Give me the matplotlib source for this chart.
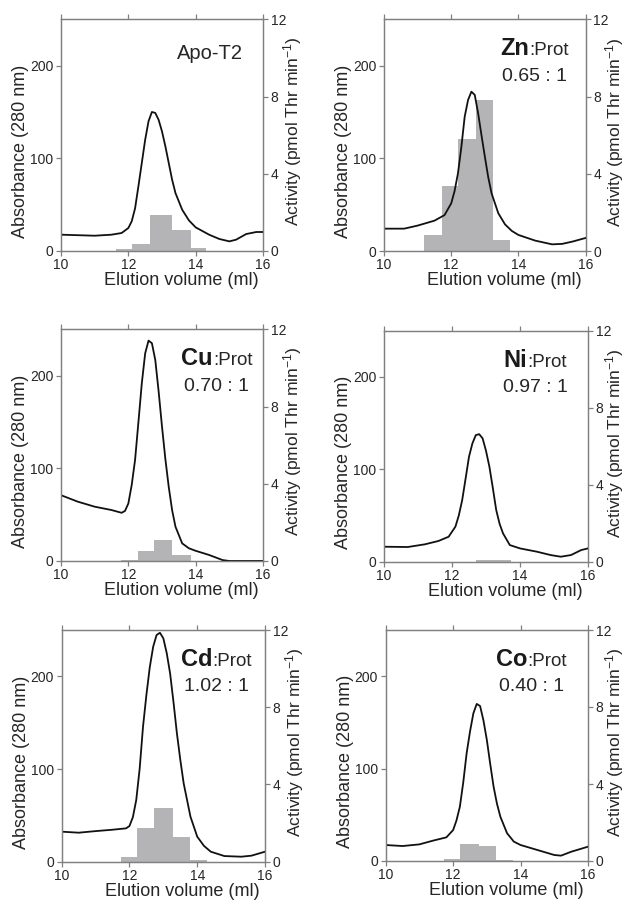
import numpy as np
import matplotlib
matplotlib.use('Agg')
import matplotlib.pyplot as plt

plt.rcParams['font.family'] = ['Liberation Sans', 'DejaVu Sans']
plt.rcParams['mathtext.fontset'] = 'custom'
plt.rcParams['mathtext.rm'] = 'Liberation Sans'
plt.rcParams['mathtext.it'] = 'Liberation Sans:italic'
plt.rcParams['mathtext.bf'] = 'Liberation Sans:bold'

# ---------------- data ----------------
apo_x = [10, 11, 11.5, 11.8, 12.0, 12.1, 12.2, 12.3, 12.4, 12.5, 12.6, 12.7, 12.8, 12.9, 13.0,
         13.1, 13.2, 13.3, 13.4, 13.6, 13.8, 14.0, 14.4, 14.7, 15.0, 15.2, 15.5, 15.8, 16]
apo_y = [17.6, 16.5, 17.6, 19.4, 24.8, 32, 46, 70, 95, 120, 140, 150, 149, 141.5, 129,
         113, 95, 77, 62.5, 44.5, 33, 25.5, 17.6, 13, 10.4, 12.2, 18.3, 20.5, 20.5]
apo_edges = [11.63, 12.12, 12.64, 13.30, 13.85, 14.32]
apo_act = [0.10, 0.36, 1.85, 1.10, 0.14]

zn_x = [10, 10.6, 11, 11.5, 11.8, 12.0, 12.1, 12.2, 12.3, 12.4, 12.5, 12.6, 12.7, 12.8, 12.9,
        13.0, 13.1, 13.2, 13.4, 13.6, 13.8, 14.0, 14.5, 15.0, 15.3, 15.6, 16]
zn_y = [24.4, 24.4, 27.7, 33, 39, 51.7, 65, 84, 112, 145, 163, 172, 168.5, 148.7, 125,
        102, 80, 62.5, 41, 29, 22, 17.6, 11.5, 7.5, 8, 10.4, 14.4]
zn_edges = [11.19, 11.73, 12.20, 12.74, 13.24, 13.74]
zn_act = [0.85, 3.38, 5.81, 7.83, 0.60]

cu_x = [10, 10.5, 11, 11.5, 11.8, 11.9, 12.0, 12.1, 12.2, 12.3, 12.4, 12.5, 12.6, 12.7, 12.8,
        12.9, 13.0, 13.1, 13.2, 13.3, 13.4, 13.6, 13.8, 14.0, 14.4, 14.8, 15.0, 16]
cu_y = [71, 64, 58.6, 55, 52, 54, 62, 82, 109, 150, 191.7, 224, 237.8, 235, 217,
        183, 145, 110, 80, 55, 37, 19, 13.7, 11, 6.5, 1, 0, 0]
cu_edges = [11.77, 12.28, 12.76, 13.31, 13.85]
cu_act = [0.05, 0.52, 1.09, 0.29]

ni_x = [10, 10.7, 11.2, 11.6, 11.9, 12.1, 12.2, 12.3, 12.4, 12.5, 12.6, 12.7, 12.8, 12.9, 13.0,
        13.1, 13.2, 13.3, 13.4, 13.5, 13.7, 14.0, 14.5, 14.9, 15.2, 15.5, 15.8, 16]
ni_y = [16.2, 15.9, 18.8, 22.4, 27, 37.9, 50, 66.7, 90, 113.6, 128, 137, 138, 133.5, 120,
        102.8, 80, 56, 41, 30.7, 18, 14.4, 10.8, 7.2, 5.4, 7.2, 12.6, 14.4]
ni_edges = [12.70, 13.22, 13.74]
ni_act = [0.08, 0.08]

cd_x = [10, 10.5, 11, 11.5, 11.9, 12.0, 12.1, 12.2, 12.3, 12.4, 12.5, 12.6, 12.7, 12.8, 12.9,
        13.0, 13.1, 13.2, 13.3, 13.4, 13.5, 13.6, 13.8, 14.0, 14.2, 14.4, 14.8, 15.3, 15.6, 16]
cd_y = [32.4, 31.3, 33, 34.5, 36, 38.5, 48, 66.5, 100, 145.7, 180, 210, 232, 244.6, 247,
        241, 225, 203, 172, 138.5, 110, 84.5, 48.6, 27, 17, 10.8, 6.1, 5.4, 6.5, 10.8]
cd_edges = [11.75, 12.23, 12.72, 13.28, 13.79, 14.28]
cd_act = [0.24, 1.74, 2.78, 1.28, 0.09]

co_x = [10, 10.5, 11, 11.4, 11.8, 12.0, 12.1, 12.2, 12.3, 12.4, 12.5, 12.6, 12.7, 12.8, 12.9,
        13.0, 13.1, 13.2, 13.3, 13.4, 13.6, 13.8, 14.0, 14.5, 15.0, 15.2, 15.5, 16]
co_y = [17.3, 16.2, 18, 22, 25.6, 33.5, 44, 58.8, 85, 116.5, 140, 159.8, 170, 167.7, 152,
        131, 105, 80.4, 62, 48, 30, 21, 17.3, 11.9, 6.5, 5.8, 10, 15.5]
co_edges = [11.73, 12.20, 12.78, 13.26, 13.77]
co_act = [0.12, 0.90, 0.78, 0.05]

metals = [None, 'Zn', 'Cu', 'Ni', 'Cd', 'Co']
ratios = ['Apo-T2', '0.65 : 1', '0.70 : 1', '0.97 : 1', '1.02 : 1', '0.40 : 1']

x_ticks = [10, 12, 14, 16]
abs_ticks = [0, 100, 200]
act_ticks = [0, 4, 8, 12]

# ---------------- layout ----------------
W, H = 626, 906
boxes = [(61, 19.3, 263, 251), (384, 19.3, 585.7, 251.3),
         (61, 329.3, 263, 561), (384, 330.7, 588, 561.7),
         (61.7, 630, 265, 861.7), (385.7, 630, 588, 861)]
label_cx = [0.738, 0.744, 0.772, 0.742, 0.760, 0.722]

curves = [(apo_x, apo_y), (zn_x, zn_y), (cu_x, cu_y), (ni_x, ni_y), (cd_x, cd_y), (co_x, co_y)]
bars = [(apo_edges, apo_act), (zn_edges, zn_act), (cu_edges, cu_act),
        (ni_edges, ni_act), (cd_edges, cd_act), (co_edges, co_act)]

spine_c = '#808080'
text_c = '#262626'
bar_c = '#b4b4b6'

fig = plt.figure(figsize=(W / 100, H / 100), dpi=100)
renderer = fig.canvas.get_renderer()

for i in range(6):
    x0, y0, x1, y1 = boxes[i]
    ax = fig.add_axes([x0 / W, (H - y1) / H, (x1 - x0) / W, (y1 - y0) / H])
    ax2 = ax.twinx()
    ax.set_zorder(ax2.get_zorder() + 1)
    ax.patch.set_visible(False)

    edges, act = bars[i]
    edges = np.array(edges)
    ax2.bar(edges[:-1], act, width=np.diff(edges), align='edge', color=bar_c,
            edgecolor='none', linewidth=0)
    ax2.set_ylim(0, 12)
    ax2.set_yticks(act_ticks)

    cx, cy = curves[i]
    ax.plot(cx, cy, color='#111111', lw=1.3, solid_joinstyle='round')
    ax.set_xlim(10, 16)
    ax.set_ylim(0, 250)
    ax.set_xticks(x_ticks)
    ax.set_yticks(abs_ticks)

    for a in (ax, ax2):
        for s in a.spines.values():
            s.set_color(spine_c)
            s.set_linewidth(0.9)
    ax.tick_params(axis='x', which='both', direction='out', top=True, bottom=True,
                   length=3.5, width=0.9, color=spine_c, labelsize=10, labelcolor=text_c, pad=1.5)
    ax.tick_params(axis='y', direction='out', left=True, right=False, length=3.5, width=0.9,
                   color=spine_c, labelsize=10, labelcolor=text_c, pad=2)
    ax2.tick_params(axis='y', direction='out', length=3.5, width=0.9, color=spine_c,
                    labelsize=10, labelcolor=text_c, pad=2)

    ax.text(-0.2, 0.43, 'Absorbance (280 nm)', transform=ax.transAxes, rotation=90,
            ha='center', va='center', fontsize=13, color=text_c)
    rx = (min(x1 + 30, 614.5) - x0) / (x1 - x0)
    ax.text(rx, 0.515, 'Activity (pmol Thr min$^{-1}$)', transform=ax.transAxes,
            rotation=90, ha='center', va='center', fontsize=12.6, color=text_c)
    ax.text(0.595, -0.128, 'Elution volume (ml)', transform=ax.transAxes,
            ha='center', va='center', fontsize=13, color=text_c)

    c = label_cx[i]
    if metals[i] is None:
        ax.text(c, 0.83, ratios[i], transform=ax.transAxes, ha='center', va='baseline',
                fontsize=14.5, color=text_c)
    else:
        t1 = ax.text(0, 0.845, metals[i], transform=ax.transAxes, ha='left', va='baseline',
                     fontsize=17, fontweight='bold', color='#1a1a1a')
        t2 = ax.text(0, 0.845, ':Prot', transform=ax.transAxes, ha='left', va='baseline',
                     fontsize=13.5, color=text_c)
        axw = ax.get_window_extent(renderer).width
        w1 = t1.get_window_extent(renderer).width / axw
        w2 = t2.get_window_extent(renderer).width / axw
        start = c - (w1 + w2) / 2
        t1.set_x(start)
        t2.set_x(start + w1)
        ax.text(c, 0.735, ratios[i], transform=ax.transAxes, ha='center', va='baseline',
                fontsize=14, color=text_c)

fig.savefig('out.png', dpi=100)
